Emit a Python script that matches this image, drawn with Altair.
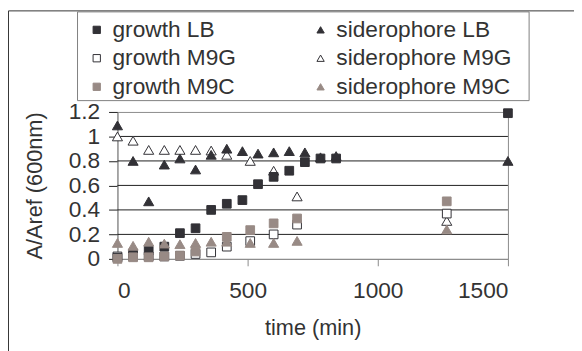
import altair as alt
import pandas as pd

# ---- data ----
lb_t = [0, 60, 120, 180, 240, 300, 360, 420, 480, 540, 600, 660, 720, 780, 840, 1500]
growth_lb = [0.01, 0.045, 0.067, 0.10, 0.21, 0.25, 0.40, 0.45, 0.48, 0.61, 0.67, 0.72, 0.79, 0.82, 0.82, 1.19]
sidero_lb = [1.09, 0.80, 0.47, 0.77, 0.82, 0.73, 0.85, 0.90, 0.88, 0.86, 0.87, 0.88, 0.87, 0.83, 0.84, 0.80]

m9_t = [0, 60, 120, 180, 240, 300, 360, 420, 510, 600, 690, 1265]
growth_m9g = [0.02, 0.02, 0.02, 0.02, 0.025, 0.04, 0.053, 0.10, 0.145, 0.20, 0.28, 0.37]
sidero_m9g = [1.0, 0.965, 0.89, 0.89, 0.89, 0.89, 0.885, 0.85, 0.80, 0.72, 0.51, 0.31]
sidero_m9c = [0.13, 0.107, 0.14, 0.125, 0.12, 0.13, 0.14, 0.14, 0.13, 0.13, 0.147, 0.24]

m9c_t = [0, 60, 120, 180, 240, 300, 420, 510, 600, 690, 1265]
growth_m9c = [0.0, 0.013, 0.013, 0.02, 0.027, 0.06, 0.18, 0.235, 0.29, 0.33, 0.47]

# legend fills column by column: growth in column 1, siderophore in column 2
series_names = ["growth LB", "growth M9G", "growth M9C",
                "siderophore LB", "siderophore M9G", "siderophore M9C"]
x_ticks = [0, 500, 1000, 1500]
y_ticks = [0, 0.2, 0.4, 0.6, 0.8, 1.0, 1.2]
grid_vals = [0.2, 0.4, 0.6, 0.8, 1.0]

DARK = "#323136"
GRAY = "#988a85"
TXT = "#333333"
FONT = "Liberation Sans"


def make_df(parts):
    rows = []
    for name, ts, vs in parts:
        for t, v in zip(ts, vs):
            rows.append({"series": name, "t": t, "v": v})
    return pd.DataFrame(rows)


# drawing order (bottom -> top)
df_tri_low = make_df([("siderophore M9G", m9_t, sidero_m9g)])
df_sq = make_df([("growth M9G", m9_t, growth_m9g),
                 ("growth LB", lb_t, growth_lb),
                 ("growth M9C", m9c_t, growth_m9c)])
df_tri_top = make_df([("siderophore LB", lb_t, sidero_lb),
                      ("siderophore M9C", m9_t, sidero_m9c)])

W, H = 396, 149
PL, PT = 111, 103
PR = 574 - PL - W
PB = 343 - PT - H

xs = alt.Scale(domain=[0, 1500], nice=False)
ys = alt.Scale(domain=[0, 1.2], nice=False)

y_axis = alt.Axis(
    values=y_ticks, format="~g", title="A/Aref (600nm)", grid=False,
    domainColor="#8a8a8a", tickColor="#1e1e1e", tickSize=9,
    labelFont=FONT, labelFontSize=23, labelColor=TXT, labelPadding=9,
    titleFont=FONT, titleFontSize=22, titleFontWeight="normal",
    titleColor=TXT, titleAngle=-90, titleX=-84, titleY=H / 2,
    titleAlign="center", titleBaseline="middle")

x_axis = alt.Axis(
    values=x_ticks, format="d", title="time (min)", grid=False,
    domainColor="#8a8a8a", tickColor="#8a8a8a", tickSize=7,
    labelFont=FONT, labelFontSize=23, labelColor=TXT, labelPadding=14,
    titleFont=FONT, titleFontSize=22, titleFontWeight="normal",
    titleColor=TXT, titlePadding=16)

legend = alt.Legend(
    title=None, orient="none", legendX=-41, legendY=-102, columns=2,
    padding=7,
    labelFont=FONT, labelFontSize=23, labelColor=TXT, labelLimit=400,
    symbolSize=55, symbolStrokeWidth=1, symbolOffset=1.5, labelOffset=4.5,
    rowPadding=5, columnPadding=72,
)

shape_sc = alt.Scale(domain=series_names,
                     range=["square", "square", "square",
                            "triangle-up", "triangle-up", "triangle-up"])
fill_sc = alt.Scale(domain=series_names,
                    range=[DARK, "white", GRAY, DARK, "white", GRAY])
stroke_sc = alt.Scale(domain=series_names,
                      range=[DARK, DARK, GRAY, DARK, DARK, GRAY])


def points(data, size):
    return alt.Chart(data).mark_point(
        filled=True, opacity=1, strokeWidth=1, size=size
    ).encode(
        x=alt.X("t:Q", scale=xs, axis=x_axis),
        y=alt.Y("v:Q", scale=ys, axis=y_axis),
        shape=alt.Shape("series:N", scale=shape_sc, legend=legend),
        fill=alt.Fill("series:N", scale=fill_sc, legend=legend),
        stroke=alt.Stroke("series:N", scale=stroke_sc, legend=legend),
    )


grid = alt.Chart(pd.DataFrame({"v": grid_vals})).mark_rule(
    color="#1e1e1e", strokeWidth=1
).encode(y=alt.Y("v:Q", scale=ys, axis=y_axis))

# outer chart frame (decoration)
frame = alt.Chart(pd.DataFrame({"a": [0]})).mark_rect(
    fillOpacity=0, stroke="#333333", strokeWidth=1
).encode(x=alt.value(-PL + 0.5), x2=alt.value(W + 300),
         y=alt.value(-PT + 0.5), y2=alt.value(H + 300))

# legend box (decoration) placed in axis units on the shared scales
box_df = pd.DataFrame({"t": [-153.4], "t2": [1581.4],
                       "v": [2.0174], "v2": [1.2926]})
legend_box = alt.Chart(box_df).mark_rect(
    fillOpacity=0, stroke="#7f7f7f", strokeWidth=1
).encode(x=alt.X("t:Q", scale=xs, axis=x_axis), x2="t2:Q",
         y=alt.Y("v:Q", scale=ys, axis=y_axis), y2="v2:Q")

chart = alt.layer(
    frame, legend_box, grid,
    points(df_tri_low, 105), points(df_sq, 78), points(df_tri_top, 105)
).properties(
    width=W, height=H,
    autosize=alt.AutoSizeParams(type="none"),
    padding={"left": PL, "top": PT, "right": PR, "bottom": PB},
    background="white",
).configure_view(stroke="#8a8a8a", strokeWidth=1)

chart.save("out.html", embed_options={"renderer": "svg", "actions": False})
